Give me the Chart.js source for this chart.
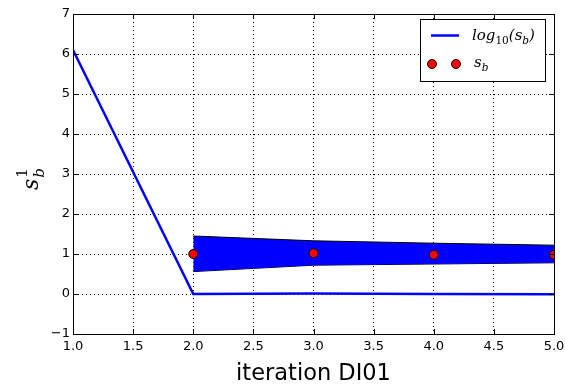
<!DOCTYPE html>
<html>
<head>
<meta charset="utf-8">
<script src="https://cdn.jsdelivr.net/npm/chart.js@4.4.1/dist/chart.umd.min.js"></script>
<style>
html,body{margin:0;padding:0;background:#fff;}
#wrap{width:565px;height:388px;position:relative;}
</style>
</head>
<body>
<div id="wrap"><canvas id="c" width="565" height="388"></canvas></div>
<script>
// Data
const iterations = [1, 2, 3, 4, 5];
const logSb = [6.1, 0.0, 0.01, 0.0, -0.005];
const sbIter = [2, 3, 4, 5];
const sbValues = [1.0, 1.02, 0.98, 0.98];
const bandUpper = [1.45, 1.33, 1.27, 1.22];
const bandLower = [0.56, 0.72, 0.75, 0.78];
const xTicks = [1.0, 1.5, 2.0, 2.5, 3.0, 3.5, 4.0, 4.5, 5.0];
const yTicks = [-1, 0, 1, 2, 3, 4, 5, 6, 7];

const FONT = "DejaVu Sans";
const MATH = "DejaVu Serif";

function mathRuns(ctx, x, y, runs, base) {
  // runs: [text, scale, dy(in units of base), italic]
  let cx = x;
  for (const r of runs) {
    const size = base * r[1];
    ctx.font = (r[3] ? "italic " : "") + size + "px '" + MATH + "'";
    ctx.fillText(r[0], cx, y + r[2] * base);
    cx += ctx.measureText(r[0]).width;
  }
  return cx - x;
}

const decor = {
  id: 'decor',
  afterDraw(chart) {
    const ctx = chart.ctx;
    const a = chart.chartArea;
    const xs = chart.scales.x, ys = chart.scales.y;
    ctx.save();
    ctx.setLineDash([]);
    // inward ticks on all four sides
    ctx.strokeStyle = '#000';
    ctx.lineWidth = 1;
    ctx.beginPath();
    for (const v of xTicks) {
      const px = Math.round(xs.getPixelForValue(v)) + 0.5;
      ctx.moveTo(px, a.bottom); ctx.lineTo(px, a.bottom - 5);
      ctx.moveTo(px, a.top); ctx.lineTo(px, a.top + 5);
    }
    for (const v of yTicks) {
      const py = Math.round(ys.getPixelForValue(v)) + 0.5;
      ctx.moveTo(a.left, py); ctx.lineTo(a.left + 5, py);
      ctx.moveTo(a.right, py); ctx.lineTo(a.right - 5, py);
    }
    ctx.stroke();
    // frame
    ctx.strokeRect(Math.round(a.left) + 0.5, Math.round(a.top) + 0.5,
                   Math.round(a.right - a.left), Math.round(a.bottom - a.top));

    // legend
    const lx = 420, ly = 19, lw = 125, lh = 62;
    ctx.fillStyle = '#fff';
    ctx.fillRect(lx, ly, lw, lh);
    ctx.strokeRect(lx + 0.5, ly + 0.5, lw, lh);
    ctx.strokeStyle = '#0000ff';
    ctx.lineWidth = 2.5;
    ctx.beginPath();
    ctx.moveTo(431, 35.5); ctx.lineTo(459, 35.5);
    ctx.stroke();
    ctx.fillStyle = '#ff0000';
    ctx.strokeStyle = '#000';
    ctx.lineWidth = 1;
    for (const px of [432, 456]) {
      ctx.beginPath();
      ctx.arc(px, 64, 4.5, 0, Math.PI * 2);
      ctx.fill(); ctx.stroke();
    }
    ctx.fillStyle = '#000';
    ctx.textBaseline = 'alphabetic';
    ctx.textAlign = 'left';
    mathRuns(ctx, 472, 40, [["log", 1, 0, true], ["10", 0.7, 0.25, false], ["(s", 1, 0, true], ["b", 0.7, 0.25, true], [")", 1, 0, true]], 15);
    mathRuns(ctx, 474, 67, [["s", 1, 0, true], ["b", 0.7, 0.25, true]], 15);

    // y axis title s_b^1 rotated
    ctx.save();
    ctx.translate(38, 190);
    ctx.rotate(-Math.PI / 2);
    ctx.font = "italic 22px '" + MATH + "'";
    ctx.fillText("s", 0, 0);
    const sw = ctx.measureText("s").width;
    ctx.font = "italic 15px '" + MATH + "'";
    ctx.fillText("b", sw + 1, 6);
    ctx.font = "15px '" + MATH + "'";
    ctx.fillText("1", sw + 1, -11);
    ctx.restore();

    ctx.restore();
  }
};

new Chart(document.getElementById('c'), {
  type: 'line',
  data: {
    datasets: [
      {
        label: 'band_upper',
        data: sbIter.map((x, i) => ({x, y: bandUpper[i]})),
        borderColor: '#000', borderWidth: 1, pointRadius: 0,
        backgroundColor: '#0000ff', fill: '+1', order: 3, tension: 0
      },
      {
        label: 'band_lower',
        data: sbIter.map((x, i) => ({x, y: bandLower[i]})),
        borderColor: '#000', borderWidth: 1, pointRadius: 0,
        fill: false, order: 3, tension: 0
      },
      {
        label: 'log10(s_b)',
        data: iterations.map((x, i) => ({x, y: logSb[i]})),
        borderColor: '#0000ff', borderWidth: 2.5, pointRadius: 0,
        fill: false, order: 2, tension: 0, clip: 0
      },
      {
        label: 's_b',
        data: sbIter.map((x, i) => ({x, y: sbValues[i]})),
        showLine: false, pointRadius: 4.5, pointBackgroundColor: '#ff0000',
        pointBorderColor: '#000', pointBorderWidth: 1, order: 1, clip: 0
      }
    ]
  },
  options: {
    responsive: false,
    animation: false,
    events: [],
    layout: { padding: { top: 14, right: 11, left: 0, bottom: 0 } },
    plugins: { legend: { display: false }, tooltip: { enabled: false } },
    scales: {
      x: {
        type: 'linear', min: 1, max: 5, z: 1,
        afterBuildTicks(s) { s.ticks = xTicks.map(v => ({value: v})); },
        afterFit(s) { s.height = 54; s.paddingLeft = 0; s.paddingRight = 0; },
        ticks: { color: '#000', font: { family: FONT, size: 13 }, padding: 5, maxRotation: 0,
                 callback: v => Number(v).toFixed(1) },
        grid: { color: '#000', lineWidth: 1, drawTicks: false, tickLength: 0 },
        border: { display: true, color: '#000', width: 1, dash: [1, 3] },
        title: { display: true, text: 'iteration DI01', color: '#000',
                 font: { family: FONT, size: 22.5 }, padding: { top: 5, bottom: 0 } }
      },
      y: {
        type: 'linear', min: -1, max: 7, z: 1,
        afterBuildTicks(s) { s.ticks = yTicks.map(v => ({value: v})); },
        afterFit(s) { s.width = 73; s.paddingTop = 0; s.paddingBottom = 0; },
        ticks: { color: '#000', font: { family: FONT, size: 13 }, padding: 3,
                 callback: v => (v < 0 ? '\u2212' + Math.abs(v) : String(v)) },
        grid: { color: '#000', lineWidth: 1, drawTicks: false, tickLength: 0 },
        border: { display: true, color: '#000', width: 1, dash: [1, 3] }
      }
    }
  },
  plugins: [decor]
});
</script>
</body>
</html>
